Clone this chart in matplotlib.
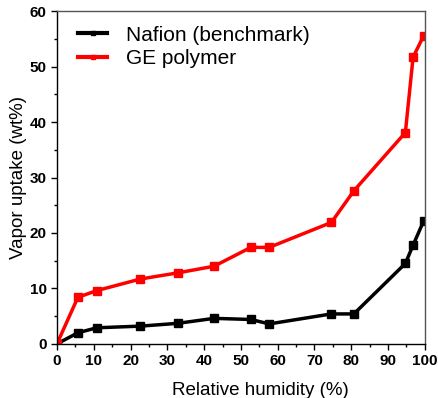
import matplotlib
matplotlib.use("Agg")
import matplotlib.pyplot as plt
from matplotlib.ticker import MultipleLocator

plt.rcParams['font.family'] = ['Liberation Sans', 'DejaVu Sans']

rh = [0, 5.7, 10.8, 22.7, 32.8, 42.7, 52.7, 57.7, 74.6, 80.7, 94.7, 96.8, 99.7]
nafion = [0, 2.0, 2.9, 3.2, 3.7, 4.6, 4.4, 3.6, 5.4, 5.4, 14.5, 17.8, 22.2]
ge = [0, 8.4, 9.6, 11.7, 12.8, 14.0, 17.4, 17.4, 21.9, 27.6, 38.1, 51.7, 55.6]

fig = plt.figure(figsize=(4.38, 3.98), dpi=100)
ax = fig.add_axes([0.130, 0.136, 0.840, 0.836])

ax.plot(rh, nafion, color="black", lw=2.5, marker="s", ms=5.5, label="Nafion (benchmark)")
ax.plot(rh, ge, color="red", lw=2.5, marker="s", ms=5.5, label="GE polymer")

ax.set_xlim(0, 100)
ax.set_ylim(0, 60)
ax.xaxis.set_major_locator(MultipleLocator(10))
ax.xaxis.set_minor_locator(MultipleLocator(5))
ax.yaxis.set_major_locator(MultipleLocator(10))
ax.yaxis.set_minor_locator(MultipleLocator(5))
ax.tick_params(which="major", direction="out", length=4, width=1, labelsize=11)
ax.tick_params(which="minor", direction="out", length=2.5, width=1)
for lab in ax.get_xticklabels() + ax.get_yticklabels():
    lab.set_fontweight("bold")
for s in ax.spines.values():
    s.set_linewidth(1)
ax.spines["top"].set_color("#555555")
ax.spines["right"].set_color("#555555")

ax.set_xlabel("Relative humidity (%)", fontsize=13.5, labelpad=9)
ax.xaxis.set_label_coords(0.553, -0.115)
ax.set_ylabel("Vapor uptake (wt%)", fontsize=13.5, labelpad=2)

leg = ax.legend(loc="upper left", frameon=False, fontsize=15, handlelength=1.4,
                handletextpad=0.9, markerscale=0.55, labelspacing=0.2,
                borderaxespad=0.3, bbox_to_anchor=(0.018, 1.0))
for h in leg.get_lines():
    h.set_linewidth(3)

fig.savefig("out.png", dpi=100)
